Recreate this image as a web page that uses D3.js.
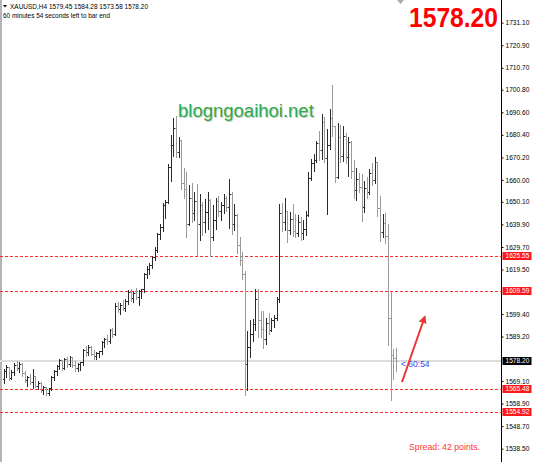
<!DOCTYPE html>
<html>
<head>
<meta charset="utf-8">
<script src="https://cdn.jsdelivr.net/npm/d3@7"></script>
<style>
  body { margin: 0; background: #fff; }
  svg { display: block; font-family: "Liberation Sans", Arial, sans-serif; }
</style>
</head>
<body>
<svg id="chart" width="534" height="462"></svg>
<script>
// H4 bars, each [open, high, low, close]
const ohlc = [
  [1570.0,1575.0,1568.2,1573.5],[1573.5,1576.8,1571.0,1575.5],[1575.5,1576.0,1569.5,1570.5],[1570.5,1574.5,1569.8,1573.2],
  [1573.2,1577.5,1572.0,1576.5],[1576.5,1578.8,1574.0,1575.2],[1575.2,1578.3,1573.0,1577.0],[1577.0,1577.5,1571.5,1572.5],
  [1572.5,1574.0,1568.5,1569.5],[1569.5,1572.0,1567.0,1570.8],[1570.8,1572.5,1567.8,1568.5],[1568.5,1575.0,1566.0,1571.5],
  [1571.5,1572.0,1566.2,1567.0],[1567.0,1569.5,1565.5,1568.0],[1568.0,1569.0,1564.2,1565.2],[1565.2,1567.5,1563.2,1566.5],
  [1566.5,1567.0,1562.6,1563.8],[1563.8,1566.5,1563.0,1565.8],[1565.8,1572.0,1565.0,1571.0],[1571.0,1574.5,1569.5,1573.5],
  [1573.5,1577.0,1572.0,1576.0],[1576.0,1579.5,1574.5,1578.5],[1578.5,1579.0,1574.0,1575.0],[1575.0,1580.0,1574.5,1579.0],
  [1579.0,1580.5,1575.5,1577.0],[1577.0,1581.0,1576.0,1579.8],[1579.8,1580.5,1575.5,1576.5],[1576.5,1578.5,1573.5,1575.0],
  [1575.0,1577.5,1573.8,1576.8],[1576.8,1578.0,1574.0,1577.5],[1577.5,1584.0,1576.5,1583.0],[1583.0,1585.2,1580.5,1582.0],
  [1582.0,1586.0,1581.0,1584.5],[1584.5,1585.5,1580.8,1581.5],[1581.5,1583.5,1579.0,1580.5],[1580.5,1582.5,1579.2,1581.8],
  [1581.8,1583.0,1579.8,1582.5],[1582.5,1587.5,1581.5,1586.8],[1586.8,1589.0,1584.5,1588.2],[1588.2,1590.5,1585.8,1587.0],
  [1587.0,1593.0,1586.5,1592.0],[1592.0,1593.5,1588.8,1590.2],[1590.2,1605.0,1590.0,1603.0],[1603.0,1605.5,1600.5,1601.8],
  [1601.8,1604.8,1599.5,1603.5],[1603.5,1606.0,1601.0,1602.0],[1602.0,1606.5,1600.8,1605.5],[1605.5,1610.5,1604.0,1609.5],
  [1609.5,1611.0,1605.5,1606.5],[1606.5,1610.2,1604.8,1608.8],[1608.8,1611.5,1606.0,1607.2],[1607.2,1610.8,1603.5,1609.8],
  [1609.8,1611.3,1606.8,1610.8],[1610.8,1618.5,1609.5,1617.5],[1617.5,1621.5,1615.5,1619.8],[1619.8,1623.0,1617.5,1621.5],
  [1621.5,1626.0,1620.0,1625.2],[1625.2,1630.0,1624.0,1628.5],[1628.5,1636.5,1627.5,1635.5],[1635.5,1640.5,1633.5,1638.8],
  [1638.8,1650.0,1637.0,1648.5],[1648.5,1651.5,1643.0,1650.2],[1650.2,1667.5,1649.6,1666.0],[1666.0,1681.0,1659.5,1676.0],
  [1676.0,1688.5,1671.0,1683.5],[1683.5,1689.4,1670.5,1672.5],[1672.5,1680.0,1670.5,1678.0],[1678.0,1678.5,1656.0,1658.5],
  [1658.5,1666.0,1652.0,1656.0],[1656.0,1664.0,1634.0,1640.0],[1640.0,1658.0,1639.5,1652.0],[1652.0,1659.0,1641.0,1645.0],
  [1645.0,1655.0,1642.0,1650.5],[1650.5,1658.5,1626.0,1640.0],[1640.0,1654.0,1633.0,1648.5],[1648.5,1650.5,1635.0,1641.0],
  [1641.0,1652.0,1636.5,1645.5],[1645.5,1655.0,1638.0,1651.0],[1651.0,1652.0,1625.5,1634.0],[1634.0,1649.0,1633.0,1642.0],
  [1642.0,1652.5,1638.0,1650.5],[1650.5,1653.0,1643.5,1646.0],[1646.0,1650.5,1642.0,1648.5],[1648.5,1654.0,1645.0,1652.0],
  [1652.0,1653.0,1646.0,1648.0],[1648.0,1661.0,1638.5,1653.5],[1653.5,1655.0,1635.5,1640.0],[1640.0,1649.5,1637.5,1644.0],
  [1644.0,1645.0,1627.0,1630.5],[1630.5,1634.5,1621.5,1624.0],[1624.0,1628.0,1615.0,1617.5],[1617.5,1619.5,1562.6,1577.0],
  [1577.0,1592.0,1565.0,1584.5],[1584.5,1597.0,1580.0,1590.5],[1590.5,1597.5,1587.0,1595.0],[1595.0,1611.0,1592.0,1606.0],
  [1606.0,1611.2,1589.0,1596.5],[1596.5,1601.0,1589.0,1592.5],[1592.5,1601.2,1584.0,1588.0],[1588.0,1598.0,1586.0,1595.5],
  [1595.5,1600.5,1590.5,1592.0],[1592.0,1598.0,1591.5,1596.5],[1596.5,1599.5,1593.5,1597.5],[1597.5,1607.5,1596.5,1606.0],
  [1606.0,1649.5,1605.0,1645.0],[1645.0,1650.0,1637.0,1641.0],[1641.0,1652.5,1637.5,1646.0],[1646.0,1646.5,1632.0,1637.5],
  [1637.5,1646.0,1635.5,1642.5],[1642.5,1649.5,1634.5,1637.0],[1637.0,1645.0,1634.0,1636.2],[1636.2,1644.5,1634.5,1641.0],
  [1641.0,1643.5,1633.0,1636.0],[1636.0,1642.5,1633.5,1638.0],[1638.0,1646.5,1635.0,1644.0],[1644.0,1664.0,1643.5,1661.0],
  [1661.0,1670.0,1660.0,1667.5],[1667.5,1672.0,1664.0,1669.0],[1669.0,1678.0,1668.0,1676.5],[1676.5,1682.5,1669.0,1673.5],
  [1673.5,1690.5,1669.5,1686.0],[1686.0,1689.0,1668.0,1670.0],[1670.0,1683.5,1644.5,1676.0],[1676.0,1692.5,1674.0,1688.0],
  [1688.0,1703.3,1680.0,1684.5],[1684.5,1685.0,1659.0,1661.5],[1661.5,1686.0,1661.0,1679.5],[1679.5,1685.5,1668.0,1671.0],
  [1671.0,1685.0,1668.5,1680.0],[1680.0,1681.5,1667.5,1670.5],[1670.5,1680.0,1662.0,1677.0],[1677.0,1678.0,1661.0,1664.0],
  [1664.0,1669.5,1652.0,1655.5],[1655.5,1666.0,1651.0,1660.5],[1660.5,1663.5,1654.5,1657.0],[1657.0,1663.0,1641.5,1648.0],
  [1648.0,1660.0,1645.5,1656.5],[1656.5,1662.0,1652.0,1654.5],[1654.5,1665.5,1653.5,1663.0],[1663.0,1668.0,1657.5,1660.0],
  [1660.0,1671.0,1658.5,1668.0],[1668.0,1668.5,1643.5,1647.5],[1647.5,1653.0,1632.5,1636.5],[1636.5,1645.0,1634.0,1640.5],
  [1640.5,1645.5,1631.5,1634.5],[1634.5,1640.5,1585.5,1597.5],[1597.5,1610.0,1560.5,1581.0],[1581.0,1584.0,1570.0,1579.4],
  [1579.45,1584.28,1573.58,1578.20]
];

const tickVals = [1731.10, 1720.90, 1710.70, 1700.80, 1690.60, 1680.40, 1670.20, 1660.00, 1650.10,
                  1639.90, 1629.70, 1619.50, 1599.40, 1589.20, 1569.10, 1558.90, 1548.70, 1538.50];
const levels = [1625.55, 1609.59, 1565.48, 1554.92];
const lastPrice = 1578.20;
const headerLine = 'XAUUSD,H4  1579.45 1584.28 1573.58 1578.20';
const timerLine = '60 minutes 54 seconds left to bar end';

const W = 534, H = 462, axisX = 501.5;
const svg = d3.select('#chart');

const x = d3.scaleLinear().domain([0, ohlc.length - 1]).range([3.5, 396]);
const y = d3.scaleLinear().domain([1538.5, 1731.1]).range([448.7, 22.7]);

// left frame strip
svg.append('rect').attr('x', 0).attr('y', 0).attr('width', 2).attr('height', H).attr('fill', '#b4b4b4');

// watermark (with a soft shadow)
svg.append('text').attr('x', 179).attr('y', 118).attr('font-size', 18.5)
  .attr('fill', '#cfcfcf').text('blogngoaihoi.net');
svg.append('text').attr('x', 178).attr('y', 117).attr('font-size', 18.5)
  .attr('fill', '#2eaa44').text('blogngoaihoi.net');

// current price line
svg.append('line')
  .attr('x1', 0).attr('x2', axisX).attr('y1', Math.round(y(lastPrice))).attr('y2', Math.round(y(lastPrice)))
  .attr('stroke', '#dcdcdc').attr('stroke-width', 2);

// support / resistance levels
svg.selectAll('.lvl').data(levels).join('line')
  .attr('class', 'lvl')
  .attr('x1', 0).attr('x2', axisX)
  .attr('y1', d => Math.round(y(d)) + 0.5).attr('y2', d => Math.round(y(d)) + 0.5)
  .attr('stroke', '#ff2a2a').attr('stroke-width', 1).attr('stroke-dasharray', '3,2');

// bars
const px = i => Math.round(x(i)) + 0.5;
const py = v => Math.round(y(v)) + 0.5;
svg.append('g').attr('shape-rendering', 'crispEdges')
  .selectAll('path').data(ohlc).join('path')
  .attr('d', (d, i) => {
    const cx = px(i);
    return `M${cx},${py(d[1])}V${py(d[2])}M${cx - 1.5},${py(d[0])}H${cx}M${cx},${py(d[3])}H${cx + 1.5}`;
  })
  .attr('fill', 'none')
  .attr('stroke', d => d[3] >= d[0] ? '#2a2a2a' : '#9a9a9a')
  .attr('stroke-width', 1);

// price axis
svg.append('line').attr('x1', axisX).attr('x2', axisX).attr('y1', 0).attr('y2', H)
  .attr('stroke', '#000').attr('stroke-width', 1);
const axis = d3.axisRight(y).tickValues(tickVals).tickSize(2).tickPadding(2).tickFormat(d3.format('.2f'));
const gAxis = svg.append('g').attr('transform', `translate(${axisX},0)`).call(axis);
gAxis.select('.domain').remove();
gAxis.selectAll('text').attr('font-size', 6.6).attr('font-family', '"Liberation Sans", Arial, sans-serif').attr('fill', '#000');

// level price boxes
const boxes = levels.map(v => ({ v, bg: '#ff1a1a' })).concat([{ v: lastPrice, bg: '#000' }]);
const gBox = svg.selectAll('.box').data(boxes).join('g').attr('class', 'box')
  .attr('transform', d => `translate(${axisX + 1},${Math.round(y(d.v))})`);
gBox.append('rect').attr('x', 0).attr('y', -4).attr('width', 29).attr('height', 8).attr('fill', d => d.bg);
gBox.append('text').attr('x', 3).attr('y', 2.4).attr('font-size', 6.6).attr('fill', '#fff')
  .text(d => d3.format('.2f')(d.v));

// header text
svg.append('path').attr('d', 'M3,5L7,5L5,7.5Z').attr('fill', '#000');
svg.append('text').attr('x', 10).attr('y', 9).attr('font-size', 6.6).attr('fill', '#000')
  .attr('textLength', 138).attr('lengthAdjust', 'spacingAndGlyphs').text(headerLine);
svg.append('text').attr('x', 3).attr('y', 18).attr('font-size', 6.6).attr('fill', '#000')
  .attr('textLength', 107).attr('lengthAdjust', 'spacingAndGlyphs').text(timerLine);

// shift marker at top
svg.append('path').attr('d', 'M397,0L404,0L400.5,4Z').attr('fill', '#aaa');

// big price
svg.append('text').attr('x', 409).attr('y', 27).attr('font-size', 27).attr('font-weight', 'bold')
  .attr('fill', '#ff0000').attr('textLength', 89).attr('lengthAdjust', 'spacingAndGlyphs')
  .text(d3.format('.2f')(lastPrice));

// bar timer
svg.append('text').attr('x', 401).attr('y', 366.5).attr('font-size', 8.5).attr('fill', '#4040f5')
  .text('< 60:54');

// spread
svg.append('text').attr('x', 409).attr('y', 450).attr('font-size', 9).attr('fill', '#ff3535')
  .attr('textLength', 71).attr('lengthAdjust', 'spacingAndGlyphs').text('Spread: 42 points.');

// arrow
svg.append('defs').append('marker').attr('id', 'ah')
  .attr('viewBox', '0 0 10 10').attr('refX', 5).attr('refY', 5)
  .attr('markerWidth', 4).attr('markerHeight', 4).attr('orient', 'auto')
  .append('path').attr('d', 'M0,0L10,5L0,10Z').attr('fill', '#e83535');
svg.append('line').attr('x1', 402).attr('y1', 382).attr('x2', 424).attr('y2', 319)
  .attr('stroke', '#e83535').attr('stroke-width', 2).attr('marker-end', 'url(#ah)');
</script>
</body>
</html>
